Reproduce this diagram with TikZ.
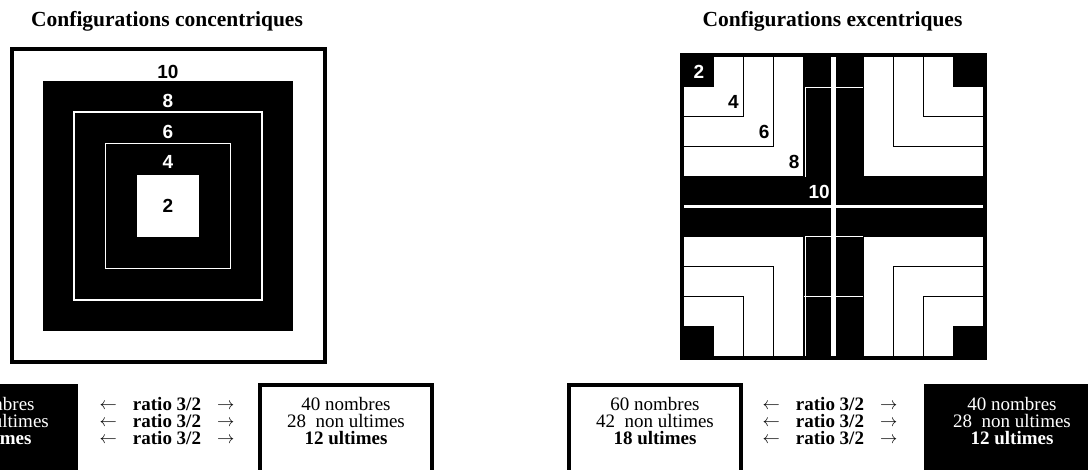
\documentclass[tikz,border=0pt]{standalone}
\usepackage{fontspec}
\setmainfont{Liberation Serif}
\setsansfont{Liberation Sans}
\usetikzlibrary{positioning}

% small arrows round the ratio label
\newcommand{\larr}{\raisebox{0.5pt}{\fontsize{16}{16}\selectfont$\leftarrow$}}
\newcommand{\rarr}{\raisebox{0.5pt}{\fontsize{16}{16}\selectfont$\rightarrow$}}
\newcommand{\ratioline}{\larr\hspace{16pt}\textbf{ratio 3/2}\hspace{16pt}\rarr}

\begin{document}
\begin{tikzpicture}[
  x=1pt, y=-1pt,
  title/.style={font=\fontsize{21.5}{24}\selectfont\bfseries, anchor=base, inner sep=0},
  num/.style={font=\fontsize{19}{19}\selectfont\sffamily\bfseries, inner sep=0},
  ring/.style={minimum size=#1, inner sep=0},
  thinline/.style={line width=0.8pt},
  whiteline/.style={white, line width=0.7pt},
  txt/.style={font=\fontsize{19}{17}\selectfont, align=center, inner sep=0},
  lightbox/.style={draw, line width=4pt, anchor=north, minimum width=172pt, minimum height=100pt},
  darkbox/.style={fill=black, anchor=north, minimum width=176pt, minimum height=104pt}
]
\useasboundingbox (0,0) rectangle (1088,470);

% concentric squares
\node[title] (tconc) at (167,26.7) {Configurations concentriques};
\coordinate (conc) at (168,206);
\node[ring=313pt, draw, line width=4pt] (sq10) at (conc) {};
\node[ring=250.4pt, fill=black] (sq8) at (conc) {};
\node[ring=187.8pt, draw=white, line width=1.5pt] (sq6) at (conc) {};
\node[ring=125.2pt, draw=white, line width=1.5pt] (sq4) at (conc) {};
\node[ring=62.6pt, fill=white] (sq2) at (conc) {};
\node[num] (c10) at ([yshift=-24.5pt]sq10.north) {10};
\node[num, text=white] (c8) at ([yshift=-20.4pt]sq8.north) {8};
\node[num, text=white] (c6) at ([yshift=-20.6pt]sq6.north) {6};
\node[num, text=white] (c4) at ([yshift=-19.4pt]sq4.north) {4};
\node[num] (c2) at (sq2) {2};

% eccentric grid, 10 x 10 cells
\node[title] (texc) at (832.5,26.7) {Configurations excentriques};
\begin{scope}[shift={(684,57)}, x=29.9pt, y=-29.9pt]
  \fill (0,0) rectangle (1,1) (9,0) rectangle (10,1)
        (0,9) rectangle (1,10) (9,9) rectangle (10,10);
  \fill (4,0) rectangle (6,10) (0,4) rectangle (10,6);
  \draw[thinline] (2,0) |- (0,2) (3,0) |- (0,3) (4,0) |- (0,4);
  \draw[thinline] (8,0) |- (10,2) (7,0) |- (10,3) (6,0) |- (10,4);
  \draw[thinline] (2,10) |- (0,8) (3,10) |- (0,7) (4,10) |- (0,6);
  \draw[thinline] (8,10) |- (10,8) (7,10) |- (10,7) (6,10) |- (10,6);
  \draw[whiteline] (4.05,4) -- (4.05,1) -- (6,1)
                   (4.05,10) -- (4.05,6) -- (6,6) (4,8) -- (6,8);
  \draw[white, line width=4.5pt] (5,0) -- (5,10);
  \draw[white, line width=3.5pt] (0,5) -- (10,5);
  \draw[line width=4pt] (-0.067,-0.067) rectangle (10.067,10.067);
  \node[num, text=white] (e2) at (0.5,0.5) {2};
  \node[num, anchor=east] (e4) at ([xshift=-5pt]2,1.5) {4};
  \node[num, anchor=east] (e6) at ([xshift=-4pt]3,2.5) {6};
  \node[num, anchor=east] (e8) at ([xshift=-4pt]4,3.5) {8};
  \node[num, anchor=east, text=white] (e10) at ([xshift=-3.5pt]5,4.5) {10};
\end{scope}

% counts under the concentric case
\node[darkbox] (boxA) at (-10,383.5) {};
\node[txt] (ratioA) at (167,421) {\ratioline\\\ratioline\\\ratioline};
\node[txt, text=white] (numsA) at (boxA.north |- ratioA) {60 nombres\\42~~non ultimes\\\textbf{18 ultimes}};
\node[lightbox] (boxB) at (346,383.5) {};
\node[txt] (numsB) at (boxB.north |- ratioA) {40 nombres\\28~~non ultimes\\\textbf{12 ultimes}};

% counts under the eccentric case
\node[lightbox] (boxC) at (655,383.5) {};
\node[txt] (ratioB) at (830,421) {\ratioline\\\ratioline\\\ratioline};
\node[txt] (numsC) at (boxC.north |- ratioB) {60 nombres\\42~~non ultimes\\\textbf{18 ultimes}};
\node[darkbox] (boxD) at (1012,383.5) {};
\node[txt, text=white] (numsD) at (boxD.north |- ratioB) {40 nombres\\28~~non ultimes\\\textbf{12 ultimes}};
\end{tikzpicture}
\end{document}
